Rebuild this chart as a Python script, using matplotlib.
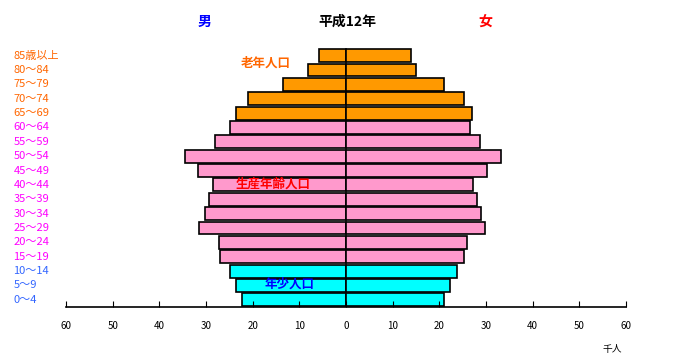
import matplotlib
matplotlib.use("Agg")
import matplotlib.pyplot as plt

plt.rcParams['font.family'] = ['Noto Sans CJK JP', 'DejaVu Sans']

# age groups, bottom to top
ages = ["0〜4", "5〜9", "10〜14", "15〜19", "20〜24", "25〜29", "30〜34", "35〜39",
        "40〜44", "45〜49", "50〜54", "55〜59", "60〜64", "65〜69", "70〜74",
        "75〜79", "80〜84", "85歳以上"]
# thousands of people
male = [22.2, 23.5, 24.8, 26.9, 27.3, 31.6, 30.3, 29.3, 28.4, 31.8, 34.4, 28.0,
        24.8, 23.5, 21.1, 13.6, 8.1, 5.7]
female = [21.0, 22.3, 23.8, 25.3, 26.0, 29.8, 29.0, 28.1, 27.3, 30.3, 33.3, 28.8,
          26.6, 26.9, 25.2, 21.1, 15.1, 13.9]
xticks = [-60, -50, -40, -30, -20, -10, 0, 10, 20, 30, 40, 50, 60]

fill_cols = ["#00FFFF"] * 3 + ["#FF99CC"] * 10 + ["#FF9900"] * 5
lab_cols = ["#3366FF"] * 3 + ["#FF00FF"] * 10 + ["#FF6600"] * 5

fig = plt.figure(figsize=(6.77, 3.61), dpi=100)
ax = fig.add_axes([0.0975, 0.1496, 0.8272, 0.7161])

y = list(range(len(ages)))
ax.barh(y, [-m for m in male], height=0.9, color=fill_cols, edgecolor="black", linewidth=1.2)
ax.barh(y, female, height=0.9, color=fill_cols, edgecolor="black", linewidth=1.2)

ax.set_xlim(-60, 60)
ax.set_ylim(-0.5, 17.5)
ax.set_xticks(xticks)
ax.set_xticklabels([str(abs(v)) for v in xticks], fontsize=7)
ax.tick_params(axis="x", direction="in", length=4, pad=10)
ax.set_yticks([])
for s in ["top", "right", "left"]:
    ax.spines[s].set_visible(False)
ax.spines["bottom"].set_linewidth(1.2)

# age labels on the left
for i, a in enumerate(ages):
    fig.text(0.02, 0.1496 + 0.7161 * (i + 0.5) / 18, a, color=lab_cols[i],
             fontsize=8, ha="left", va="center")

ax.text(-17.1, 16.5, "老年人口", color="#FF6600", fontsize=9, fontweight="bold",
        ha="center", va="center")
ax.text(-15.6, 8.05, "生産年齢人口", color="#FF0000", fontsize=9, fontweight="bold",
        ha="center", va="center")
ax.text(-12.2, 1.08, "年少人口", color="#0000FF", fontsize=9, fontweight="bold",
        ha="center", va="center")

fig.text(347 / 677, 1 - 22 / 361, "平成12年", fontsize=10, fontweight="bold",
         ha="center", va="center")
fig.text(205 / 677, 1 - 22 / 361, "男", color="#0000FF", fontsize=10, fontweight="bold",
         ha="center", va="center")
fig.text(485 / 677, 1 - 22 / 361, "女", color="#FF0000", fontsize=10, fontweight="bold",
         ha="center", va="center")
fig.text(612 / 677, 1 - 349 / 361, "千人", fontsize=7, ha="center", va="center")

fig.savefig("out.png", dpi=100)
